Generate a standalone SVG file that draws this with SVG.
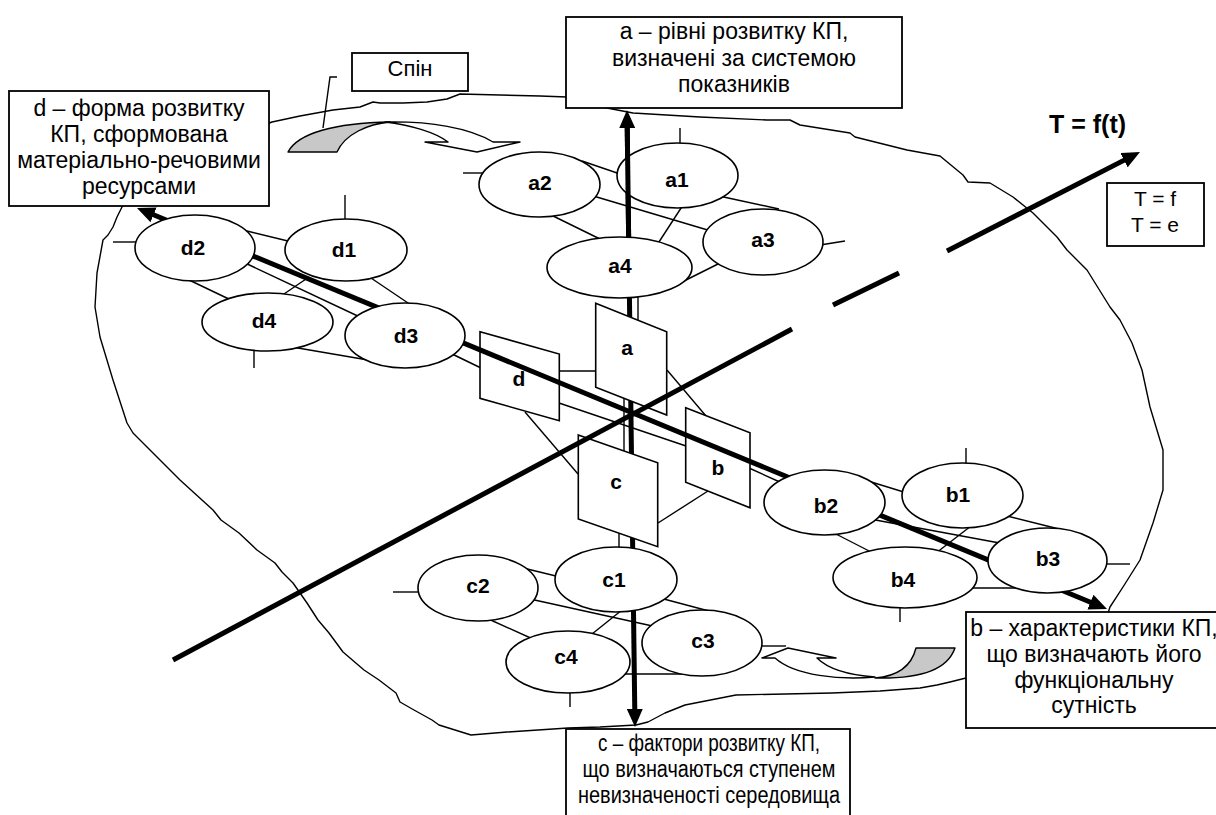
<svg xmlns="http://www.w3.org/2000/svg" width="1216" height="815" viewBox="0 0 1216 815">
<defs>
<style>
.thin{stroke:#000;stroke-width:1.4;fill:none}
.blob{stroke:#000;stroke-width:1.4;fill:none;stroke-linejoin:round}
.thick{stroke:#000;stroke-width:5;fill:none}
.ell{fill:#fff;stroke:#000;stroke-width:1.6}
.plate{fill:#fff;stroke:#000;stroke-width:1.6}
.box{fill:#fff;stroke:#000;stroke-width:1.8}
.spinw{fill:#fff;stroke:#000;stroke-width:1.4;stroke-linejoin:round}
.sping{fill:#c8c8c8;stroke:#000;stroke-width:1.4;stroke-linejoin:round}
.lbl{font-family:"Liberation Sans",Arial,sans-serif;font-weight:bold;font-size:21px;text-anchor:middle}
.txt{font-family:"Liberation Sans",Arial,sans-serif;font-size:23px;text-anchor:middle}
</style>
<marker id="ah" markerUnits="userSpaceOnUse" viewBox="0 0 18 16" markerWidth="18" markerHeight="16" refX="8" refY="8" orient="auto-start-reverse"><path d="M0,0 L18,8 L0,16 z" fill="#000"/></marker>
</defs>
<rect width="1216" height="815" fill="#fff"/>

<g id="outline">
<path class="blob" d="M272,122 L300,116 L333,110 L360,107 L373,102 L380,103 L403,103 L427,102 L447,99 L460,94 L500,95 L540,96 L567,97 L607,108 L633,113 L700,117 L767,120 L790,120 L800,125 L850,133 L855,137 L907,150 L940,156 L963,175 L968,182 L990,183 L1013,197 L1033,213 L1057,237 L1067,250 L1087,270 L1110,307 L1120,320 L1132,343 L1142,370 L1150,407 L1163,450 L1163,490 L1153,523 L1140,560 L1123,587 L1110,607 L1108,613 L966,678 L950,682 L937,685 L920,688 L880,691 L832,693 L736,695 L685,705 L665,713 L648,722 L636,725 L600,727 L568,728 L507,732 L471,735 L439,725 L432,720 L414,710 L400,702 L396,693 L379,680 L364,670 L343,652 L329,633 L318,620 L307,603 L293,583 L282,572 L275,563 L257,550 L239,533 L221,520 L213,510 L180,480 L147,447 L133,433 L127,423 L113,380 L100,337 L95,307 L97,273 L103,240 L108,235 L113,227 L117,217 L123,205 L200,150 Z"/>
</g>

<g id="spin-arrows">
<path class="sping" d="M288,152 C298,133 335,123 390,122 C368,124 345,134 337,152 Z"/>
<path class="spinw" d="M448,142 L425,142 L477,152 L520,142 L493,142 C470,128 430,121 385,122 C410,125 435,132 448,142 Z"/>
<path class="spinw" d="M775,658 L762,658 L788,648 L836,658 L817,658 C828,669 848,675 875,677 C840,680 795,676 775,658 Z"/>
<path class="sping" d="M955,648 C948,668 925,679 875,678 C900,676 912,664 916,648 Z"/>
<polyline class="thin" points="337,77 330,77 323,128"/>
</g>

<g id="connectors">
<line class="thin" x1="582" y1="161" x2="623" y2="175"/>
<line class="thin" x1="590" y1="195" x2="711" y2="231"/>
<line class="thin" x1="719" y1="196" x2="779" y2="209"/>
<line class="thin" x1="683" y1="205" x2="657" y2="245"/>
<line class="thin" x1="547" y1="213" x2="602" y2="240"/>
<line class="thin" x1="722" y1="262" x2="680" y2="283"/>
<line class="thin" x1="680" y1="128" x2="680" y2="146"/>
<line class="thin" x1="463" y1="173" x2="482" y2="173"/>
<line class="thin" x1="820" y1="245" x2="845" y2="241"/>
<line class="thin" x1="638" y1="294" x2="638" y2="321"/>
<line class="thin" x1="243" y1="230" x2="292" y2="242"/>
<line class="thin" x1="243" y1="262" x2="362" y2="318"/>
<line class="thin" x1="187" y1="279" x2="233" y2="301"/>
<line class="thin" x1="309" y1="277" x2="281" y2="296"/>
<line class="thin" x1="368" y1="276" x2="411" y2="305"/>
<line class="thin" x1="292" y1="347" x2="368" y2="360"/>
<line class="thin" x1="345" y1="195" x2="345" y2="221"/>
<line class="thin" x1="113" y1="242" x2="137" y2="242"/>
<line class="thin" x1="254" y1="348" x2="254" y2="368"/>
<line class="thin" x1="448" y1="352" x2="481" y2="368"/>
<line class="thin" x1="868" y1="481" x2="907" y2="493"/>
<line class="thin" x1="870" y1="519" x2="1005" y2="544"/>
<line class="thin" x1="1003" y1="515" x2="1063" y2="530"/>
<line class="thin" x1="971" y1="526" x2="936" y2="553"/>
<line class="thin" x1="832" y1="532" x2="875" y2="554"/>
<line class="thin" x1="968" y1="588" x2="1024" y2="588"/>
<line class="thin" x1="966" y1="448" x2="966" y2="466"/>
<line class="thin" x1="1104" y1="564" x2="1130" y2="564"/>
<line class="thin" x1="900" y1="605" x2="900" y2="622"/>
<line class="thin" x1="749" y1="468" x2="782" y2="483"/>
<line class="thin" x1="515" y1="566" x2="560" y2="577"/>
<line class="thin" x1="530" y1="599" x2="657" y2="627"/>
<line class="thin" x1="660" y1="598" x2="724" y2="615"/>
<line class="thin" x1="622" y1="610" x2="592" y2="634"/>
<line class="thin" x1="484" y1="617" x2="535" y2="640"/>
<line class="thin" x1="625" y1="674" x2="695" y2="674"/>
<line class="thin" x1="393" y1="592" x2="420" y2="592"/>
<line class="thin" x1="570" y1="690" x2="570" y2="707"/>
<line class="thin" x1="760" y1="646" x2="786" y2="646"/>
<line class="thin" x1="619" y1="532" x2="619" y2="551"/>
<line class="thin" x1="559" y1="371" x2="596" y2="371"/>
<line class="thin" x1="559" y1="403" x2="686" y2="446"/>
<line class="thin" x1="525" y1="412" x2="578" y2="474"/>
<line class="thin" x1="667" y1="370" x2="706" y2="416"/>
<line class="thin" x1="708" y1="491" x2="658" y2="523"/>
<line class="thin" x1="624" y1="398" x2="624" y2="452"/>
<line class="thick" x1="627.13" y1="120" x2="634.87" y2="717" marker-start="url(#ah)" marker-end="url(#ah)"/>
</g>

<g id="plate-a"><polygon class="plate" points="595.7,303.3 666.7,331.7 666.7,415 595.7,387.3"/><text class="lbl" x="627" y="355">a</text></g>
<g id="plate-d"><polygon class="plate" points="480,331.7 559.3,354 559.3,420.7 480,398.3"/><text class="lbl" x="519" y="386">d</text></g>
<g id="plate-b"><polygon class="plate" points="685.7,407.7 750,432.7 750,507.7 685.7,482.3"/><text class="lbl" x="718" y="475">b</text></g>
<g id="plate-c"><polygon class="plate" points="578.3,435 657.7,462.7 657.7,546.7 578.3,519"/><text class="lbl" x="616" y="489">c</text></g>

<g id="axes">
<line class="thick" x1="146.2" y1="211.8" x2="1097.8" y2="605.2" marker-start="url(#ah)" marker-end="url(#ah)"/>
<line class="thick" x1="173" y1="660" x2="792" y2="329"/>
<line class="thick" x1="833" y1="305" x2="899" y2="273"/>
<line class="thick" x1="947" y1="251" x2="1131.1" y2="156.6" marker-end="url(#ah)"/>
</g>

<g id="a1"><ellipse class="ell" cx="677.5" cy="175.5" rx="60.5" ry="32.5"/><text class="lbl" x="677" y="187">a1</text></g>
<g id="a2"><ellipse class="ell" cx="539.5" cy="184.5" rx="60.5" ry="32.5"/><text class="lbl" x="540" y="190">a2</text></g>
<g id="a3"><ellipse class="ell" cx="763" cy="242" rx="60" ry="33"/><text class="lbl" x="763" y="247">a3</text></g>
<g id="a4"><ellipse class="ell" cx="619.5" cy="267.5" rx="72.5" ry="30.5"/><text class="lbl" x="620" y="273">a4</text></g>

<g id="d1"><ellipse class="ell" cx="346" cy="250" rx="61" ry="31"/><text class="lbl" x="344" y="257">d1</text></g>
<g id="d2"><ellipse class="ell" cx="195" cy="248" rx="60" ry="33"/><text class="lbl" x="193" y="255">d2</text></g>
<g id="d3"><ellipse class="ell" cx="405" cy="335.5" rx="60" ry="32.5"/><text class="lbl" x="406" y="343">d3</text></g>
<g id="d4"><ellipse class="ell" cx="267.5" cy="322" rx="65.5" ry="29"/><text class="lbl" x="264" y="328">d4</text></g>

<g id="b1"><ellipse class="ell" cx="962.5" cy="495.5" rx="60.5" ry="32.5"/><text class="lbl" x="958" y="502">b1</text></g>
<g id="b2"><ellipse class="ell" cx="824.5" cy="502.5" rx="60.5" ry="32.5"/><text class="lbl" x="826" y="513">b2</text></g>
<g id="b3"><ellipse class="ell" cx="1047.5" cy="560.5" rx="59.5" ry="32.5"/><text class="lbl" x="1048" y="566">b3</text></g>
<g id="b4"><ellipse class="ell" cx="905" cy="577.5" rx="72" ry="30.5"/><text class="lbl" x="903" y="587">b4</text></g>

<g id="c1"><ellipse class="ell" cx="616" cy="579.5" rx="61" ry="32.5"/><text class="lbl" x="614" y="587">c1</text></g>
<g id="c2"><ellipse class="ell" cx="478" cy="588" rx="60" ry="33"/><text class="lbl" x="478" y="593">c2</text></g>
<g id="c3"><ellipse class="ell" cx="702" cy="643" rx="60" ry="33"/><text class="lbl" x="703" y="648">c3</text></g>
<g id="c4"><ellipse class="ell" cx="568" cy="662" rx="62" ry="31"/><text class="lbl" x="566" y="664">c4</text></g>

<g id="axis-overlay">
<line class="thick" x1="627.13" y1="120" x2="628.66" y2="238"/>
</g>

<g id="box-a"><rect class="box" x="566" y="17" width="336" height="91"/>
<text class="txt" x="734" y="39">a – рівні розвитку КП,</text>
<text class="txt" x="734" y="66">визначені за системою</text>
<text class="txt" x="734" y="92">показників</text></g>

<g id="box-d"><rect class="box" x="9" y="91" width="260" height="115"/>
<text class="txt" x="139" y="116">d – форма розвитку</text>
<text class="txt" x="139" y="142">КП, сформована</text>
<text class="txt" x="139" y="168">матеріально-речовими</text>
<text class="txt" x="139" y="194">ресурсами</text></g>

<g id="box-b"><rect class="box" x="966" y="612" width="256" height="116"/>
<text class="txt" x="1094" y="636">b – характеристики КП,</text>
<text class="txt" x="1094" y="662">що визначають його</text>
<text class="txt" x="1094" y="688">функціональну</text>
<text class="txt" x="1094" y="713">сутність</text></g>

<g id="box-c"><rect class="box" x="566" y="729" width="284" height="100"/>
<text class="txt" x="709" y="751" textLength="222" lengthAdjust="spacingAndGlyphs">c – фактори розвитку КП,</text>
<text class="txt" x="709" y="777" textLength="253" lengthAdjust="spacingAndGlyphs">що визначаються ступенем</text>
<text class="txt" x="709" y="803" textLength="262" lengthAdjust="spacingAndGlyphs">невизначеності середовища</text></g>

<g id="box-spin"><rect class="box" x="352" y="53" width="116" height="38"/>
<text class="txt" x="410" y="76" style="font-size:22px">Спін</text></g>

<g id="box-t"><rect class="box" x="1107" y="183" width="97" height="63"/>
<text class="txt" x="1155" y="206" style="font-size:21px">T = f</text>
<text class="txt" x="1155" y="232" style="font-size:21px">T = e</text></g>

<g id="title-t"><text x="1049" y="133" style="font-family:'Liberation Sans',Arial,sans-serif;font-weight:bold;font-size:25px">T = f(t)</text></g>
</svg>
